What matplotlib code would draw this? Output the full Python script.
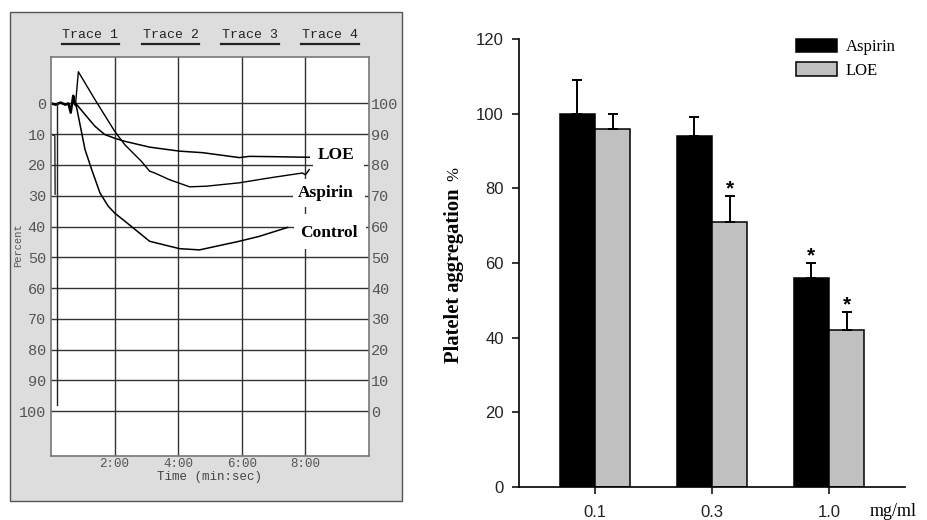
import matplotlib
matplotlib.use("Agg")
import matplotlib.pyplot as plt
from matplotlib.patches import Rectangle, Patch
from matplotlib.lines import Line2D
import numpy as np

W, H, DPI = 928, 520, 100

# ---------------- Left panel data: aggregation traces ----------------
# x: time in minutes, y: percent (0 at top, 100 at bottom)
base_x = [0.0, 0.15, 0.3, 0.45, 0.55, 0.62, 0.66, 0.70, 0.74, 0.78]
base_y = [0.0, 0.4, -0.3, 0.4, 0.0, 3.0, 0.2, -2.5, 0.0, 0.5]

stub_x = [0.0, 0.12, 0.13]
stub_y = [10.0, 10.5, 29.5]

drop_x = [0.18, 0.18]
drop_y = [0.0, 98.0]

aspirin_tx = [0.77, 0.86, 1.38, 2.0, 2.16, 2.32, 2.84, 3.10, 3.26, 3.73, 4.36, 4.88, 5.92, 6.87, 7.91, 8.0, 8.12]
aspirin_ty = [0.5, -10.3, -1.3, 9.0, 11.2, 13.4, 18.8, 22.0, 22.6, 24.8, 27.1, 26.9, 25.8, 24.2, 22.6, 23.2, 21.5]

loe_tx = [0.78, 1.07, 1.38, 1.69, 2.0, 2.32, 3.10, 4.04, 4.77, 5.92, 6.24, 7.0, 8.12]
loe_ty = [0.0, 3.6, 7.4, 10.1, 11.3, 12.3, 14.2, 15.5, 16.0, 17.6, 17.2, 17.3, 17.5]

control_tx = [0.78, 1.07, 1.28, 1.54, 1.80, 2.0, 2.53, 3.10, 4.04, 4.67, 5.92, 6.55, 7.44]
control_ty = [0.0, 15.0, 21.5, 29.1, 33.4, 35.6, 40.0, 44.8, 47.2, 47.6, 44.8, 43.2, 40.3]

trace_names = ["Trace 1", "Trace 2", "Trace 3", "Trace 4"]
time_ticks = [2, 4, 6, 8]
time_labels = ["2:00", "4:00", "6:00", "8:00"]
pct_ticks = [0, 10, 20, 30, 40, 50, 60, 70, 80, 90, 100]
left_labels = ["0", "10", "20", "30", "40", "50", "60", "70", "80", "90", "100"]
right_labels = ["100", "90", "80", "70", "60", "50", "40", "30", "20", "10", "0"]

# ---------------- Right panel data: bar chart ----------------
doses = ["0.1", "0.3", "1.0"]
aspirin_mean = [100, 94, 56]
aspirin_err = [9, 5, 4]
loe_mean = [96, 71, 42]
loe_err = [4, 7, 5]
aspirin_sig = [False, False, True]
loe_sig = [False, True, True]
bar_yticks = [0, 20, 40, 60, 80, 100, 120]

MONO = "Liberation Mono"
SERIF = "Liberation Serif"
SANS = "Liberation Sans"


def fx(px):
    return px / W


def fy(py):
    return 1 - py / H


fig = plt.figure(figsize=(W / DPI, H / DPI), dpi=DPI)
fig.patch.set_facecolor("white")

# grey instrument panel
fig.add_artist(Rectangle((fx(10), fy(501)), 392 / W, 489 / H, transform=fig.transFigure,
                         facecolor="#dddddd", edgecolor="#555555", lw=1.0, zorder=0))

ax = fig.add_axes([fx(51), fy(456), (369 - 51) / W, (456 - 57) / H])
ax.set_facecolor("white")
ax.set_xlim(0, 10)
ax.set_ylim(114.6, -15.1)
ax.set_xticks(time_ticks)
ax.set_xticklabels(time_labels, family=MONO, fontsize=9, color="#555555")
ax.set_yticks(pct_ticks)
ax.set_yticklabels(left_labels, family=MONO, fontsize=11, color="#555555")
ax.tick_params(axis="both", length=0)
ax.tick_params(axis="y", pad=3.6)
ax.tick_params(axis="x", pad=1.5)
ax.grid(True, color="#333333", lw=1.0)
for s in ax.spines.values():
    s.set_color("#777777")
    s.set_linewidth(1.2)
ax.set_xlabel("Time (min:sec)", family=MONO, fontsize=9, color="#444444", labelpad=1)

ax2 = ax.twinx()
ax2.set_ylim(ax.get_ylim())
ax2.set_yticks(pct_ticks)
ax2.set_yticklabels(right_labels, family=MONO, fontsize=11, color="#555555")
ax2.tick_params(axis="y", length=0, pad=1.5)
for s in ax2.spines.values():
    s.set_visible(False)

# label backgrounds
for (x0, x1, y0, y1) in [(8.25, 9.85, 12.5, 21.0), (7.6, 9.87, 24.5, 33.8), (7.65, 9.9, 36.0, 47.3)]:
    ax.add_patch(Rectangle((x0, y0), x1 - x0, y1 - y0, facecolor="white", edgecolor="none", zorder=1.8))

ax.plot(base_x, base_y, color="black", lw=1.8, zorder=2.5)
ax.plot(stub_x, stub_y, color="#222222", lw=1.0, zorder=2.5)
ax.plot(drop_x, drop_y, color="#222222", lw=1.0, zorder=2.5)
ax.plot(aspirin_tx, aspirin_ty, color="black", lw=1.0, zorder=2.5)
ax.plot(loe_tx, loe_ty, color="black", lw=1.1, zorder=2.5)
ax.plot(control_tx, control_ty, color="black", lw=1.1, zorder=2.5)

ax.text(8.96, 16.6, "LOE", family=SERIF, weight="bold", fontsize=12.5, ha="center", va="center", zorder=3)
ax.text(8.65, 29.0, "Aspirin", family=SERIF, weight="bold", fontsize=12.5, ha="center", va="center", zorder=3)
ax.text(8.75, 42.0, "Control", family=SERIF, weight="bold", fontsize=12.5, ha="center", va="center", zorder=3)

fig.text(fx(18), fy(245), "Percent", rotation=90, family=MONO, fontsize=7.5, color="#555555",
         ha="center", va="center")

for name, cx in zip(trace_names, [90.5, 171, 250, 330]):
    fig.text(fx(cx), fy(35), name, family=MONO, fontsize=9.5, color="#222222", ha="center", va="center")
    fig.add_artist(Line2D([fx(cx - 28.5), fx(cx + 28.5)], [fy(43.5), fy(43.5)], transform=fig.transFigure,
                          color="#222222", lw=1.6))

# ---------------- Right panel ----------------
axb = fig.add_axes([fx(519), fy(487), 386 / W, 448 / H])
x = np.arange(len(doses))
bw = 0.3
axb.bar(x - bw / 2, aspirin_mean, width=bw, color="black", edgecolor="black", lw=1.1, zorder=2, label="Aspirin")
axb.bar(x + bw / 2, loe_mean, width=bw, color="#c0c0c0", edgecolor="black", lw=1.1, zorder=2, label="LOE")
zeros = [0] * len(doses)
axb.errorbar(x - bw / 2, aspirin_mean, yerr=[zeros, aspirin_err], fmt="none", ecolor="black",
             elinewidth=1.4, capsize=3.4, capthick=1.4, zorder=3)
axb.errorbar(x + bw / 2, loe_mean, yerr=[zeros, loe_err], fmt="none", ecolor="black",
             elinewidth=1.4, capsize=3.4, capthick=1.4, zorder=3)
for i in range(len(doses)):
    if aspirin_sig[i]:
        axb.text(x[i] - bw / 2, aspirin_mean[i] + aspirin_err[i] + 0.3, "*", family=SANS, weight="bold",
                 fontsize=15, ha="center", va="baseline")
    if loe_sig[i]:
        axb.text(x[i] + bw / 2, loe_mean[i] + loe_err[i] + 0.3, "*", family=SANS, weight="bold",
                 fontsize=15, ha="center", va="baseline")

axb.set_xlim(-0.65, 2.65)
axb.set_ylim(0, 120)
axb.set_xticks(x)
axb.set_xticklabels(doses, family=SANS, fontsize=12, color="#222222")
axb.set_yticks(bar_yticks)
axb.set_yticklabels([str(v) for v in bar_yticks], family=SANS, fontsize=12, color="#222222")
axb.tick_params(axis="both", direction="out", length=5, width=1.1, color="black")
axb.tick_params(axis="y", pad=6)
axb.tick_params(axis="x", pad=8)
for side in ["top", "right"]:
    axb.spines[side].set_visible(False)
for side in ["left", "bottom"]:
    axb.spines[side].set_linewidth(1.2)

handles = [Patch(facecolor="black", edgecolor="black", lw=1.1),
           Patch(facecolor="#c0c0c0", edgecolor="black", lw=1.1)]
axb.legend(handles, ["Aspirin", "LOE"], loc="upper left", bbox_to_anchor=(0.7176, 1.001),
           frameon=False, prop={"family": SERIF, "size": 12}, handlelength=2.45, handleheight=0.85,
           handletextpad=0.55, labelspacing=0.45, borderpad=0, borderaxespad=0)

fig.text(fx(454), fy(363), "Platelet aggregation", rotation=90, family=SERIF, weight="bold",
         fontsize=14.8, ha="center", va="bottom")
fig.text(fx(454), fy(174), "%", rotation=90, family=SERIF, fontsize=12, ha="center", va="center")
fig.text(fx(893), fy(512), "mg/ml", family=SERIF, fontsize=13, ha="center", va="center")

fig.savefig("out.png", dpi=DPI)
